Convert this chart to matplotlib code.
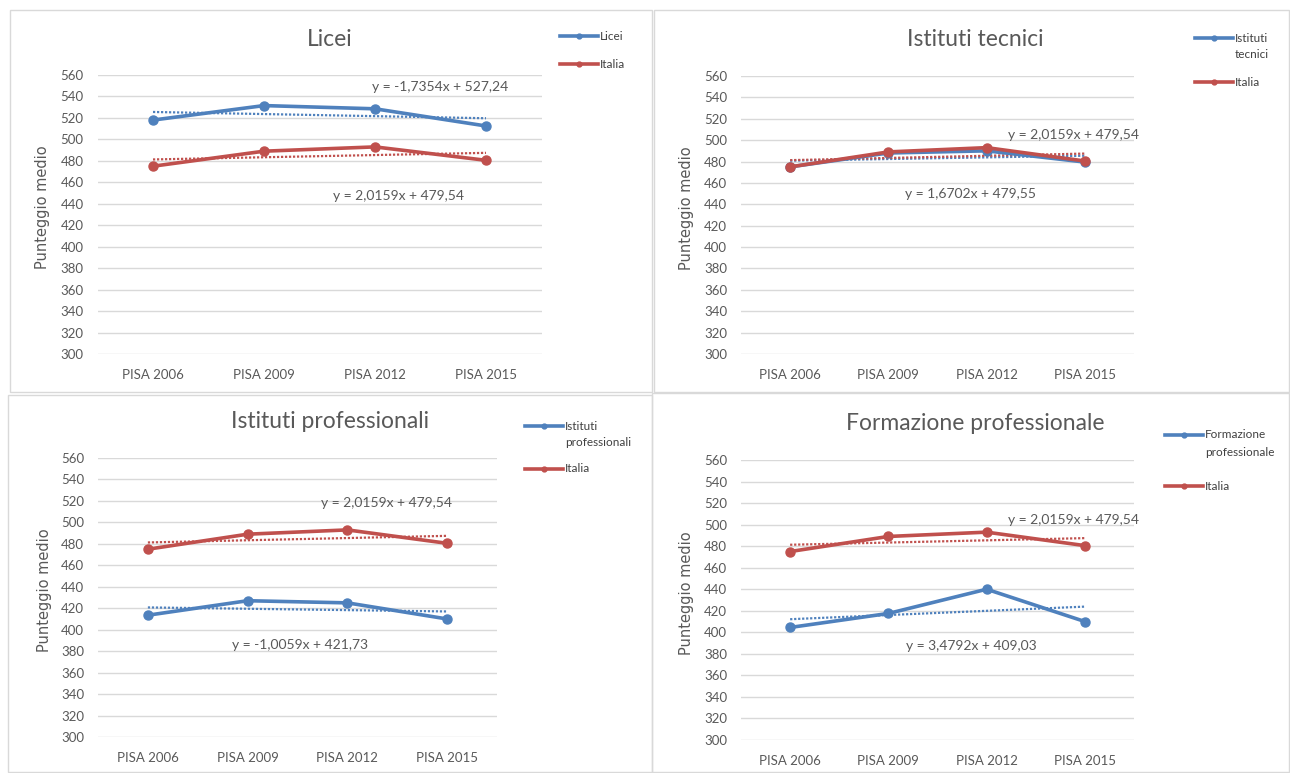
import numpy as np
import matplotlib
matplotlib.use("Agg")
import matplotlib.pyplot as plt
from matplotlib.lines import Line2D
from matplotlib.patches import Rectangle

# ================= DATA =================
categories = ["PISA 2006", "PISA 2009", "PISA 2012", "PISA 2015"]

italia = [475, 489, 493, 480.5]
licei = [518, 531.5, 528.5, 512.5]
tecnici = [475, 488, 490, 479.5]
professionali = [413.5, 427, 425, 410]
formazione = [404.5, 417.5, 440, 410]

y_ticks = list(range(300, 561, 20))
# ========================================

BLUE = "#4F81BD"
RED = "#C0504D"
GRID = "#D9D9D9"
TXT = "#595959"
W, H = 1290, 773

plt.rcParams["font.family"] = ["Lato", "DejaVu Sans"]

fig = plt.figure(figsize=(W / 100, H / 100), dpi=100)


def fx(px):
    return px / W


def fy(py):
    return 1 - py / H


# panel frames (pixel boxes: x0, y0, x1, y1)
frames = [(10, 10, 652, 392), (654, 10, 1289, 392),
          (8, 395, 652, 772), (652, 393, 1289, 772)]
for x0, y0, x1, y1 in frames:
    fig.patches.append(Rectangle((fx(x0), fy(y1)), fx(x1 - x0), (y1 - y0) / H,
                                 transform=fig.transFigure, fill=False,
                                 edgecolor=GRID, linewidth=1))

panels = [
    {
        "title": "Licei", "series": licei, "label": ["Licei"],
        "box": (97.5, 75, 541.5, 354), "title_xy": (330, 40), "ylab_x": 42,
        "leg": (560, 36, 64), "eq_blue": "y = -1,7354x + 527,24",
        "eq_blue_pos": (2.59, 548.5), "eq_red": "y = 2,0159x + 479,54",
        "eq_red_pos": (2.21, 447),
    },
    {
        "title": "Istituti tecnici", "series": tecnici, "label": ["Istituti", "tecnici"],
        "box": (741, 76, 1134, 354), "title_xy": (975, 40), "ylab_x": 686,
        "leg": (1195, 38, 82), "eq_blue": "y = 1,6702x + 479,55",
        "eq_blue_pos": (1.84, 449.5), "eq_red": "y = 2,0159x + 479,54",
        "eq_red_pos": (2.88, 505),
    },
    {
        "title": "Istituti professionali", "series": professionali,
        "label": ["Istituti", "professionali"],
        "box": (98, 458, 497, 737), "title_xy": (330, 422), "ylab_x": 45,
        "leg": (525, 426, 469), "eq_blue": "y = -1,0059x + 421,73",
        "eq_blue_pos": (1.53, 386), "eq_red": "y = 2,0159x + 479,54",
        "eq_red_pos": (2.39, 518),
    },
    {
        "title": "Formazione professionale", "series": formazione,
        "label": ["Formazione", "professionale"],
        "box": (741, 460, 1134, 740), "title_xy": (975, 424), "ylab_x": 686,
        "leg": (1165, 435, 486), "eq_blue": "y = 3,4792x + 409,03",
        "eq_blue_pos": (1.84, 387.5), "eq_red": "y = 2,0159x + 479,54",
        "eq_red_pos": (2.88, 504.5),
    },
]

x = np.arange(len(categories))

for p in panels:
    x0, y0, x1, y1 = p["box"]
    ax = fig.add_axes([fx(x0), fy(y1), fx(x1 - x0), (y1 - y0) / H])
    ax.set_xlim(-0.5, len(categories) - 0.5)
    ax.set_ylim(300, 560)
    ax.set_yticks(y_ticks)
    ax.set_xticks(x)
    ax.set_xticklabels(categories)
    ax.tick_params(length=0, labelsize=9.5, colors=TXT)
    ax.tick_params(axis="y", pad=10)
    ax.tick_params(axis="x", pad=11)
    for s in ax.spines.values():
        s.set_visible(False)
    ax.grid(axis="y", color=GRID, linewidth=1)
    ax.set_axisbelow(True)

    # trendlines (linear fit, from first to last category)
    for vals, col in [(p["series"], BLUE), (italia, RED)]:
        k, q = np.polyfit(x, vals, 1)
        ax.plot(x, k * x + q, linestyle=(0, (1, 0.8)), color=col, linewidth=1.6, zorder=2)

    ax.plot(x, p["series"], color=BLUE, linewidth=2.6, marker="o", markersize=6.5, zorder=3)
    ax.plot(x, italia, color=RED, linewidth=2.6, marker="o", markersize=6.5, zorder=4)

    ax.text(*p["eq_blue_pos"], p["eq_blue"], ha="center", va="center",
            fontsize=10, color=TXT, zorder=5)
    ax.text(*p["eq_red_pos"], p["eq_red"], ha="center", va="center",
            fontsize=10, color=TXT, zorder=5)

    fig.text(fx(p["title_xy"][0]), fy(p["title_xy"][1]), p["title"], ha="center",
             va="center", fontsize=16.5, color=TXT)
    fig.text(fx(p["ylab_x"]), fy((y0 + y1) / 2 - 7), "Punteggio medio", rotation=90,
             ha="center", va="center", fontsize=10.5, color=TXT,
             family=["DejaVu Sans"])

    # legend drawn in figure pixels
    lx, ly1, ly2 = p["leg"]
    for col, py, lines in [(BLUE, ly1, p["label"]), (RED, ly2, ["Italia"])]:
        fig.add_artist(Line2D([fx(lx), fx(lx + 38)], [fy(py), fy(py)],
                              transform=fig.transFigure, color=col, linewidth=2.6))
        fig.add_artist(Line2D([fx(lx + 19)], [fy(py)], transform=fig.transFigure,
                              color=col, marker="o", markersize=3.5))
        for i, line in enumerate(lines):
            fig.text(fx(lx + 40), fy(py + i * 17), line, ha="left", va="center",
                     fontsize=8.5, color="#404040")

fig.savefig("out.png", dpi=100, facecolor="white")
